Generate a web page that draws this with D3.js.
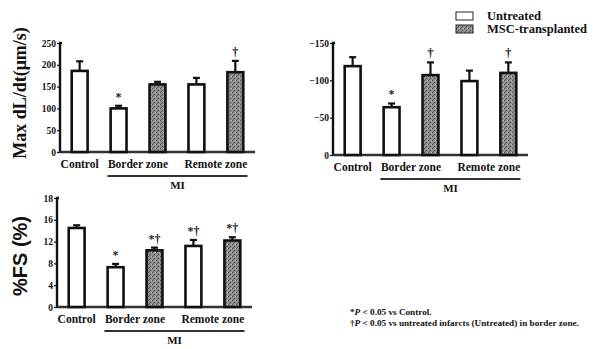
<!DOCTYPE html>
<html><head><meta charset="utf-8">
<script src="https://cdn.jsdelivr.net/npm/d3@7"></script>
<style>body{margin:0;background:#fff}svg{display:block}</style>
</head><body>
<svg id="c" width="602" height="349"></svg>
<script>
// ---- data ----
const bars = ["Control", "Border-Untreated", "Border-MSC", "Remote-Untreated", "Remote-MSC"];
const groups = ["Untreated", "Untreated", "MSC", "Untreated", "MSC"];
const categoryLabels = ["Control", "Border zone", "Remote zone"];
const maxValues = [186, 100, 155, 155, 183];
const maxErrors = [22, 6, 6, 15, 26];
const maxMarks = ["", "*", "", "", "†"];
const maxTicks = [0, 50, 100, 150, 200, 250];
const minValues = [-119, -64, -107, -99, -110];
const minErrors = [-12, -5, -17, -14, -14];
const minMarks = ["", "*", "†", "", "†"];
const minTicks = [0, -50, -100, -150];
const fsValues = [14.5, 7.3, 10.4, 11.2, 12.2];
const fsErrors = [0.5, 0.6, 0.5, 1.1, 0.6];
const fsMarks = ["", "*", "*†", "*†", "*†"];
const fsTicks = [0, 4, 8, 12, 16, 20];
const fsTickLabels = ["0", "4", "8", "12", "16", "18"];
const legendItems = ["Untreated", "MSC-transplanted"];

const svg = d3.select("#c");
const FONT = "'Liberation Serif', 'DejaVu Serif', serif";
const defs = svg.append("defs");
const pat = defs.append("pattern").attr("id", "stip").attr("patternUnits", "userSpaceOnUse")
  .attr("width", 4).attr("height", 4);
pat.append("rect").attr("width", 4).attr("height", 4).attr("fill", "#8e8e8e");
pat.append("rect").attr("x", 0).attr("y", 0).attr("width", 1).attr("height", 1).attr("fill", "#4a4a4a");
pat.append("rect").attr("x", 2).attr("y", 2).attr("width", 1).attr("height", 1).attr("fill", "#505050");
pat.append("rect").attr("x", 3).attr("y", 0).attr("width", 1).attr("height", 1).attr("fill", "#bdbdbd");
pat.append("rect").attr("x", 1).attr("y", 3).attr("width", 1).attr("height", 1).attr("fill", "#6a6a6a");

function fillFor(g) { return g === "MSC" ? "url(#stip)" : "#fff"; }

function panel(o) {
  const g = svg.append("g");
  const x = d3.scaleBand().domain(bars).range(o.xr).paddingInner(0.53).paddingOuter(0.27);
  const y = d3.scaleLinear().domain(o.dom).range(o.yr);
  // axis
  const ax = d3.axisLeft(y).tickValues(o.ticks).tickSize(3).tickPadding(1)
    .tickFormat((d, i) => o.tickLabels ? o.tickLabels[i] : d3.format("d")(d));
  const axg = g.append("g").attr("transform", `translate(${o.xr[0]},0)`).call(ax);
  axg.select(".domain").attr("stroke", "#111").attr("stroke-width", 2.4)
    .attr("d", `M0,${o.yr[0]}V${o.yr[1]}h2`);
  axg.selectAll(".tick line").attr("stroke", "#111").attr("stroke-width", 1.2);
  axg.selectAll(".tick text").attr("font-family", FONT).attr("font-weight", "bold")
    .attr("font-size", 9.5).attr("fill", "#111");
  // baseline
  g.append("line").attr("x1", o.xr[0]).attr("x2", o.xr[1]).attr("y1", y(0)).attr("y2", y(0))
    .attr("stroke", "#333").attr("stroke-width", 2.4);
  // error bars
  const eb = g.selectAll(".eb").data(bars).enter().append("g");
  eb.append("line").attr("x1", d => x(d) + x.bandwidth() / 2).attr("x2", d => x(d) + x.bandwidth() / 2)
    .attr("y1", (d, i) => y(o.values[i])).attr("y2", (d, i) => y(o.values[i] + o.errors[i]))
    .attr("stroke", "#111").attr("stroke-width", 2.2);
  eb.append("line").attr("x1", d => x(d) + x.bandwidth() / 2 - 3.5).attr("x2", d => x(d) + x.bandwidth() / 2 + 3.5)
    .attr("y1", (d, i) => y(o.values[i] + o.errors[i])).attr("y2", (d, i) => y(o.values[i] + o.errors[i]))
    .attr("stroke", "#111").attr("stroke-width", 2.2);
  // bars
  g.selectAll(".bar").data(bars).enter().append("rect")
    .attr("x", d => x(d) + 1.2).attr("width", x.bandwidth() - 2.4)
    .attr("y", (d, i) => y(o.values[i])).attr("height", (d, i) => y(0) - y(o.values[i]))
    .attr("fill", (d, i) => fillFor(groups[i])).attr("stroke", "#111").attr("stroke-width", 2.6);
  // marks
  g.selectAll(".mk").data(bars).enter().append("text")
    .attr("x", d => x(d) + x.bandwidth() / 2)
    .attr("y", (d, i) => y(o.values[i] + o.errors[i]) - 5)
    .attr("text-anchor", "middle").attr("font-family", FONT).attr("font-weight", "bold")
    .attr("font-size", 12).attr("fill", "#222").text((d, i) => o.marks[i]);
  // category labels
  const cx = [x(bars[0]) + x.bandwidth() / 2,
    (x(bars[1]) + x(bars[2]) + x.bandwidth()) / 2,
    (x(bars[3]) + x(bars[4]) + x.bandwidth()) / 2];
  const ly = y(0) + 16;
  g.selectAll(".cl").data(categoryLabels).enter().append("text")
    .attr("x", (d, i) => cx[i]).attr("y", ly).attr("text-anchor", "middle")
    .attr("font-family", FONT).attr("font-weight", "bold").attr("font-size", 11.5).attr("fill", "#111")
    .text(d => d);
  const mx1 = x(bars[1]) - 2, mx2 = x(bars[4]) + x.bandwidth() + 3;
  g.append("line").attr("x1", mx1).attr("x2", mx2)
    .attr("y1", ly + 8).attr("y2", ly + 8).attr("stroke", "#333").attr("stroke-width", 1.8);
  g.append("text").attr("x", (mx1 + mx2) / 2).attr("y", ly + 21)
    .attr("text-anchor", "middle").attr("font-family", FONT).attr("font-weight", "bold")
    .attr("font-size", 11).attr("fill", "#111").text("MI");
  if (o.title) {
    g.append("text").attr("transform", `translate(${o.titleX},${o.titleY}) rotate(-90)`)
      .attr("text-anchor", "middle").attr("font-family", o.titleFont || FONT).attr("font-weight", "bold")
      .attr("font-size", o.titleSize).attr("fill", "#111").text(o.title);
  }
}

panel({ xr: [60, 255], yr: [152, 43], dom: [0, 250], ticks: maxTicks, values: maxValues,
  errors: maxErrors, marks: maxMarks, title: "Max dL/dt(μm/s)", titleX: 26, titleY: 93, titleSize: 18 });
panel({ xr: [333, 528], yr: [155, 43], dom: [0, -150], ticks: minTicks, values: minValues,
  errors: minErrors, marks: minMarks });
panel({ xr: [57, 252], yr: [307, 198], dom: [0, 20], ticks: fsTicks, tickLabels: fsTickLabels,
  values: fsValues, errors: fsErrors, marks: fsMarks, title: "%FS (%)", titleX: 27, titleY: 256,
  titleSize: 20, titleFont: "'Liberation Sans', Arial, sans-serif" });

// legend
const lg = svg.append("g");
legendItems.forEach((t, i) => {
  lg.append("rect").attr("x", 456).attr("y", 12 + i * 13).attr("width", 17).attr("height", 8)
    .attr("fill", fillFor(i === 0 ? "Untreated" : "MSC")).attr("stroke", "#222").attr("stroke-width", 1);
  lg.append("text").attr("x", 487).attr("y", 20 + i * 13).attr("font-family", FONT)
    .attr("font-weight", "bold").attr("font-size", 12.5).attr("fill", "#111").text(t);
});

// footnotes
const fn = svg.append("g").attr("font-family", FONT).attr("font-weight", "bold").attr("font-size", 9.2).attr("fill", "#111");
const f1 = fn.append("text").attr("x", 350).attr("y", 315);
f1.append("tspan").text("*");
f1.append("tspan").attr("font-style", "italic").text("P");
f1.append("tspan").text(" < 0.05 vs Control.");
const f2 = fn.append("text").attr("x", 350).attr("y", 326);
f2.append("tspan").text("†");
f2.append("tspan").attr("font-style", "italic").text("P");
f2.append("tspan").text(" < 0.05 vs untreated infarcts (Untreated) in border zone.");
</script>
</body></html>
